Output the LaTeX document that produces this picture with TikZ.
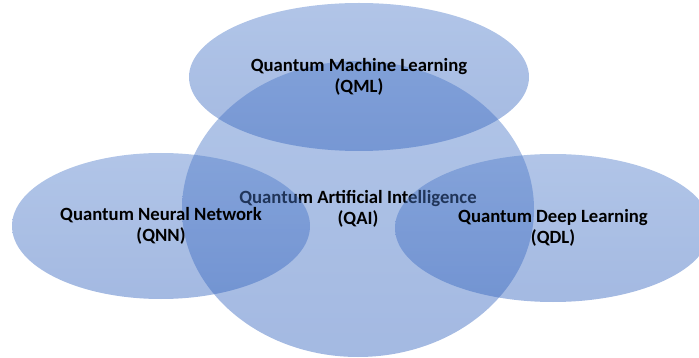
\documentclass[tikz,border=0pt]{standalone}
\usepackage{fontspec}
\setmainfont{Carlito}
\usetikzlibrary{shapes.geometric}
\definecolor{blobtop}{RGB}{82,126,203}
\definecolor{blobbot}{RGB}{52,100,190}
\tikzset{
  blob/.style={ellipse, inner sep=0pt, top color=blobtop, bottom color=blobbot,
    fill opacity=0.45, text opacity=1, align=center, text=black,
    font=\bfseries\fontsize{18.7}{21.5}\selectfont},
}
\begin{document}
\begin{tikzpicture}[x=1pt,y=-1pt]
\useasboundingbox (0,0) rectangle (699,358);
\clip (0,0) rectangle (699,358);
\node[blob, minimum width=352pt, minimum height=296pt] (qai) at (358,209) {Quantum Artificial Intelligence\\(QAI)};
\node[blob, minimum width=340pt, minimum height=148pt] (qml) at (359,77) {Quantum Machine Learning\\(QML)};
\node[blob, minimum width=298pt, minimum height=146pt] (qnn) at (161,226) {Quantum Neural Network\\(QNN)};
\node[blob, minimum width=316pt, minimum height=148pt] (qdl) at (553,228) {Quantum Deep Learning\\(QDL)};
\end{tikzpicture}
\end{document}
